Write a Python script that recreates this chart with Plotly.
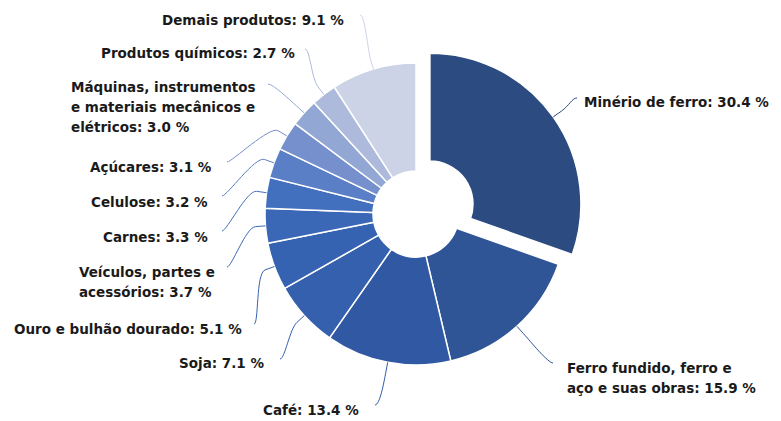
import math
import plotly.graph_objects as go

# ---------------- data ----------------
categories = [
    "Minério de ferro",
    "Ferro fundido, ferro e<br>aço e suas obras",
    "Café",
    "Soja",
    "Ouro e bulhão dourado",
    "Veículos, partes e<br>acessórios",
    "Carnes",
    "Celulose",
    "Açúcares",
    "Máquinas, instrumentos<br>e materiais mecânicos e<br>elétricos",
    "Produtos químicos",
    "Demais produtos",
]
values = [30.4, 15.9, 13.4, 7.1, 5.1, 3.7, 3.3, 3.2, 3.1, 3.0, 2.7, 9.1]

# ---------------- style ----------------
colors = ["#2C4B81", "#2F5596", "#3159A3", "#3460AD", "#3663B1", "#3A68B6",
          "#4270BE", "#5A7FC6", "#7590CC", "#93A7D4", "#AEBADC", "#CDD3E7"]
pulls = [0.113] + [0] * 11

W, H = 781, 421
CX, CY, R = 416, 214, 151
HOLE = 0.285
LINE_H = 20
BREAK_OFF = 10

# label placement: (text x, xanchor, first-line y, connector start x, connector start y)
label_pos = [
    (583, "left", 102, 577, 98),
    (566, "left", 368, 553, 363),
    (360, "right", 410, 375, 405),
    (265, "right", 363, 280, 359),
    (243, "right", 329, 254, 324),
    (78, "left", 272, 227, 267),
    (209, "right", 237, 222, 231),
    (209, "right", 202, 222, 196),
    (213, "right", 167, 227, 162),
    (70, "left", 87, 268, 84),
    (296, "right", 53, 305, 49),
    (345, "right", 20, 360, 15),
]

maxpull = max(pulls)
S = R * (1 + maxpull)
dom_x = [(CX - S) / W, (CX + S) / W]
cy_b = H - CY
dom_y = [(cy_b - S) / H, (cy_b + S) / H]

fig = go.Figure()
fig.add_trace(go.Pie(
    labels=[c.replace("<br>", " ") for c in categories],
    values=values,
    sort=False,
    direction="clockwise",
    rotation=0,
    hole=HOLE,
    pull=pulls,
    marker=dict(colors=colors, line=dict(color="white", width=1.5)),
    textinfo="none",
    hoverinfo="skip",
    showlegend=False,
    domain=dict(x=dom_x, y=dom_y),
))

total = sum(values)
shapes = []
annotations = []
cum = 0.0
for i, (cat, v) in enumerate(zip(categories, values)):
    mid = (cum + v / 2) / total * 2 * math.pi
    cum += v
    sx, sy = math.sin(mid), -math.cos(mid)
    ox = CX + pulls[i] * R * sx
    oy = CY + pulls[i] * R * sy
    tx, ty = ox + R * sx, oy + R * sy
    bx, by = ox + (R + BREAK_OFF) * sx, oy + (R + BREAK_OFF) * sy
    x_t, anchor, y0, lx, ly = label_pos[i]
    d = 5 if lx < CX else -5
    c2x, c2y = 2 * bx - tx, 2 * by - ty
    path = (f"M {lx},{ly} C {lx + d},{ly} {c2x:.2f},{c2y:.2f} {bx:.2f},{by:.2f} "
            f"L {tx:.2f},{ty:.2f}")
    shapes.append(dict(type="path", xref="x", yref="y", path=path,
                       line=dict(color=colors[i], width=1), layer="above"))
    text = f"{cat}: {v:.1f} %"
    for j, line in enumerate(text.split("<br>")):
        annotations.append(dict(
            x=x_t, y=y0 + j * LINE_H, xref="x", yref="y",
            text=line, showarrow=False, xanchor=anchor, yanchor="middle",
            borderpad=0,
            font=dict(family="DejaVu Sans", size=13.5, color="#1a1a1a", weight="bold"),
        ))

fig.update_layout(
    width=W, height=H,
    margin=dict(l=0, r=0, t=0, b=0),
    paper_bgcolor="white", plot_bgcolor="white",
    xaxis=dict(range=[0, W], visible=False, fixedrange=True),
    yaxis=dict(range=[H, 0], visible=False, fixedrange=True),
    shapes=shapes,
    annotations=annotations,
    showlegend=False,
)

fig.write_html("out.html")
